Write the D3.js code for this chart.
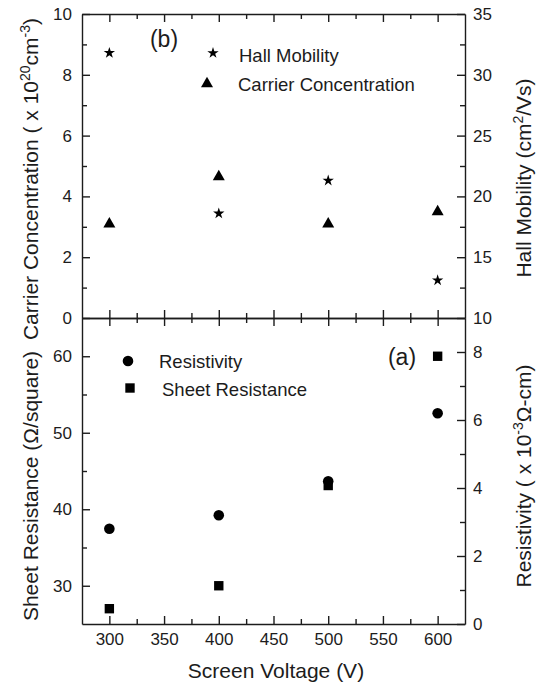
<!DOCTYPE html>
<html>
<head>
<meta charset="utf-8">
<script src="https://cdn.jsdelivr.net/npm/d3@7"></script>
<style>
  html, body { margin: 0; padding: 0; background: #fff; }
  svg { display: block; font-family: "Liberation Sans", Arial, Helvetica, sans-serif; }
</style>
</head>
<body>
<svg id="chart" width="542" height="686"></svg>
<script>
// ---- data ----
const voltage = [300, 400, 500, 600];
const hallMobility = [31.8, 18.6, 21.3, 13.1];        // cm^2/Vs (right axis, top panel)
const carrierConcentration = [3.15, 4.7, 3.15, 3.55]; // x10^20 cm^-3 (left axis, top panel)
const resistivity = [2.8, 3.2, 4.2, 6.2];             // x10^-3 ohm-cm (right axis, bottom panel)
const sheetResistance = [27.0, 30.0, 43.1, 60.0];     // ohm/square (left axis, bottom panel)

const xMajorTicks = [300, 350, 400, 450, 500, 550, 600];
const xMinorTicks = [325, 375, 425, 475, 525, 575];
const carrierTicks = [0, 2, 4, 6, 8, 10];
const carrierMinor = [1, 3, 5, 7, 9];
const hallTicks = [10, 15, 20, 25, 30, 35];
const hallMinor = [12.5, 17.5, 22.5, 27.5, 32.5];
const sheetTicks = [30, 40, 50, 60];
const sheetMinor = [35, 45, 55];
const resistTicks = [0, 2, 4, 6, 8];
const resistMinor = [1, 3, 5, 7];

// ---- layout ----
const L = 82, R = 465, T = 14, MID = 318, B = 624;
const INK = "#1c1c1c";
const svg = d3.select("#chart");

const x = d3.scaleLinear().domain([275, 625]).range([L, R]);
const yCarrier = d3.scaleLinear().domain([0, 10]).range([MID, T]);
const yHall = d3.scaleLinear().domain([10, 35]).range([MID, T]);
const ySheet = d3.scaleLinear().domain([25, 65]).range([B, MID]);
const yRes = d3.scaleLinear().domain([0, 9]).range([B, MID]);

function styleAxis(g, fontSize) {
  g.selectAll("path.domain").attr("stroke", INK).attr("stroke-width", 1.4);
  g.selectAll(".tick line").attr("stroke", INK).attr("stroke-width", 1.4);
  g.selectAll(".tick text").attr("fill", INK).attr("font-size", fontSize)
    .attr("font-family", "Liberation Sans, Arial, sans-serif");
  g.attr("font-family", null).attr("font-size", null);
}

function addAxis(axisGen, scale, major, minor, translate, labels, pad) {
  const gMaj = svg.append("g").attr("transform", translate)
    .call(axisGen(scale).tickValues(major).tickSizeInner(-8).tickSizeOuter(0)
      .tickPadding(pad || 9).tickFormat(labels ? d3.format("d") : () => ""));
  styleAxis(gMaj, 17);
  const gMin = svg.append("g").attr("transform", translate)
    .call(axisGen(scale).tickValues(minor).tickSizeInner(-5).tickSizeOuter(0)
      .tickFormat(() => ""));
  styleAxis(gMin, 17);
  gMin.select("path.domain").remove();
}

// Top panel (b)
addAxis(d3.axisLeft, yCarrier, carrierTicks, carrierMinor, `translate(${L},0)`, true, 10);
addAxis(d3.axisRight, yHall, hallTicks, hallMinor, `translate(${R},0)`, true, 8);
addAxis(d3.axisTop, x, xMajorTicks, xMinorTicks, `translate(0,${T})`, false);
addAxis(d3.axisBottom, x, xMajorTicks, xMinorTicks, `translate(0,${MID})`, false);
// Bottom panel (a)
addAxis(d3.axisTop, x, xMajorTicks, xMinorTicks, `translate(0,${MID})`, false);
addAxis(d3.axisLeft, ySheet, sheetTicks, sheetMinor, `translate(${L},0)`, true, 10);
addAxis(d3.axisRight, yRes, resistTicks, resistMinor, `translate(${R},0)`, true, 8);
addAxis(d3.axisBottom, x, xMajorTicks, xMinorTicks, `translate(0,${B})`, true, 9);

// ---- markers ----
const star = d3.symbol().type(d3.symbolStar).size(40);
const circle = d3.symbol().type(d3.symbolCircle).size(88);
const square = d3.symbol().type(d3.symbolSquare).size(88);
function triPath(w, h) {
  return `M0,${-h / 2}L${w / 2},${h / 2}L${-w / 2},${h / 2}Z`;
}
const triangle = triPath(12, 10.5);

const marks = svg.append("g").attr("fill", "#000");

marks.selectAll(".cc").data(voltage.map((v, i) => [v, carrierConcentration[i]]))
  .join("path").attr("d", triangle)
  .attr("transform", d => `translate(${x(d[0])},${yCarrier(d[1])})`);

marks.selectAll(".hm").data(voltage.map((v, i) => [v, hallMobility[i]]))
  .join("path").attr("class", "hm").attr("d", star())
  .attr("transform", d => `translate(${x(d[0])},${yHall(d[1])})`);

marks.selectAll(".rs").data(voltage.map((v, i) => [v, resistivity[i]]))
  .join("path").attr("class", "rs").attr("d", circle())
  .attr("transform", d => `translate(${x(d[0])},${yRes(d[1])})`);

marks.selectAll(".sr").data(voltage.map((v, i) => [v, sheetResistance[i]]))
  .join("path").attr("class", "sr").attr("d", square())
  .attr("transform", d => `translate(${x(d[0])},${ySheet(d[1])})`);

// ---- legends ----
const leg = svg.append("g").attr("fill", INK).attr("font-size", 18.5);
leg.append("path").attr("d", star()).attr("fill", "#000").attr("transform", "translate(213,53)");
leg.append("text").attr("x", 239).attr("y", 62).text("Hall Mobility");
leg.append("path").attr("d", triangle).attr("fill", "#000").attr("transform", "translate(207,82)");
leg.append("text").attr("x", 238).attr("y", 91).text("Carrier Concentration");
leg.append("path").attr("d", circle()).attr("fill", "#000").attr("transform", "translate(128,361)");
leg.append("text").attr("x", 159).attr("y", 368).text("Resistivity");
leg.append("path").attr("d", square()).attr("fill", "#000").attr("transform", "translate(130,388)");
leg.append("text").attr("x", 162).attr("y", 396).text("Sheet Resistance");

svg.append("text").attr("x", 164).attr("y", 47).attr("text-anchor", "middle")
  .attr("font-size", 23).attr("fill", INK).text("(b)");
svg.append("text").attr("x", 402).attr("y", 365).attr("text-anchor", "middle")
  .attr("font-size", 23).attr("fill", INK).text("(a)");

// ---- axis titles ----
function title(xPos, yPos, parts) {
  const t = svg.append("text")
    .attr("transform", `translate(${xPos},${yPos}) rotate(-90)`)
    .attr("text-anchor", "middle").attr("font-size", 21).attr("fill", INK);
  parts.forEach(p => {
    const s = t.append("tspan").text(p.t);
    if (p.sup) s.attr("font-size", 14).attr("baseline-shift", "super");
  });
  return t;
}
title(38, 179, [{t: "Carrier Concentration ( x 10"}, {t: "20", sup: true}, {t: "cm"}, {t: "-3", sup: true}, {t: ")"}]);
title(38, 486, [{t: "Sheet Resistance (Ω/square)"}]);
title(531, 178, [{t: "Hall Mobility (cm"}, {t: "2", sup: true}, {t: "/Vs)"}]);
title(531, 476, [{t: "Resistivity ( x 10"}, {t: "-3", sup: true}, {t: "Ω-cm)"}]);

svg.append("text").attr("x", 276).attr("y", 678).attr("text-anchor", "middle")
  .attr("font-size", 21).attr("fill", INK).text("Screen Voltage (V)");
</script>
</body>
</html>
